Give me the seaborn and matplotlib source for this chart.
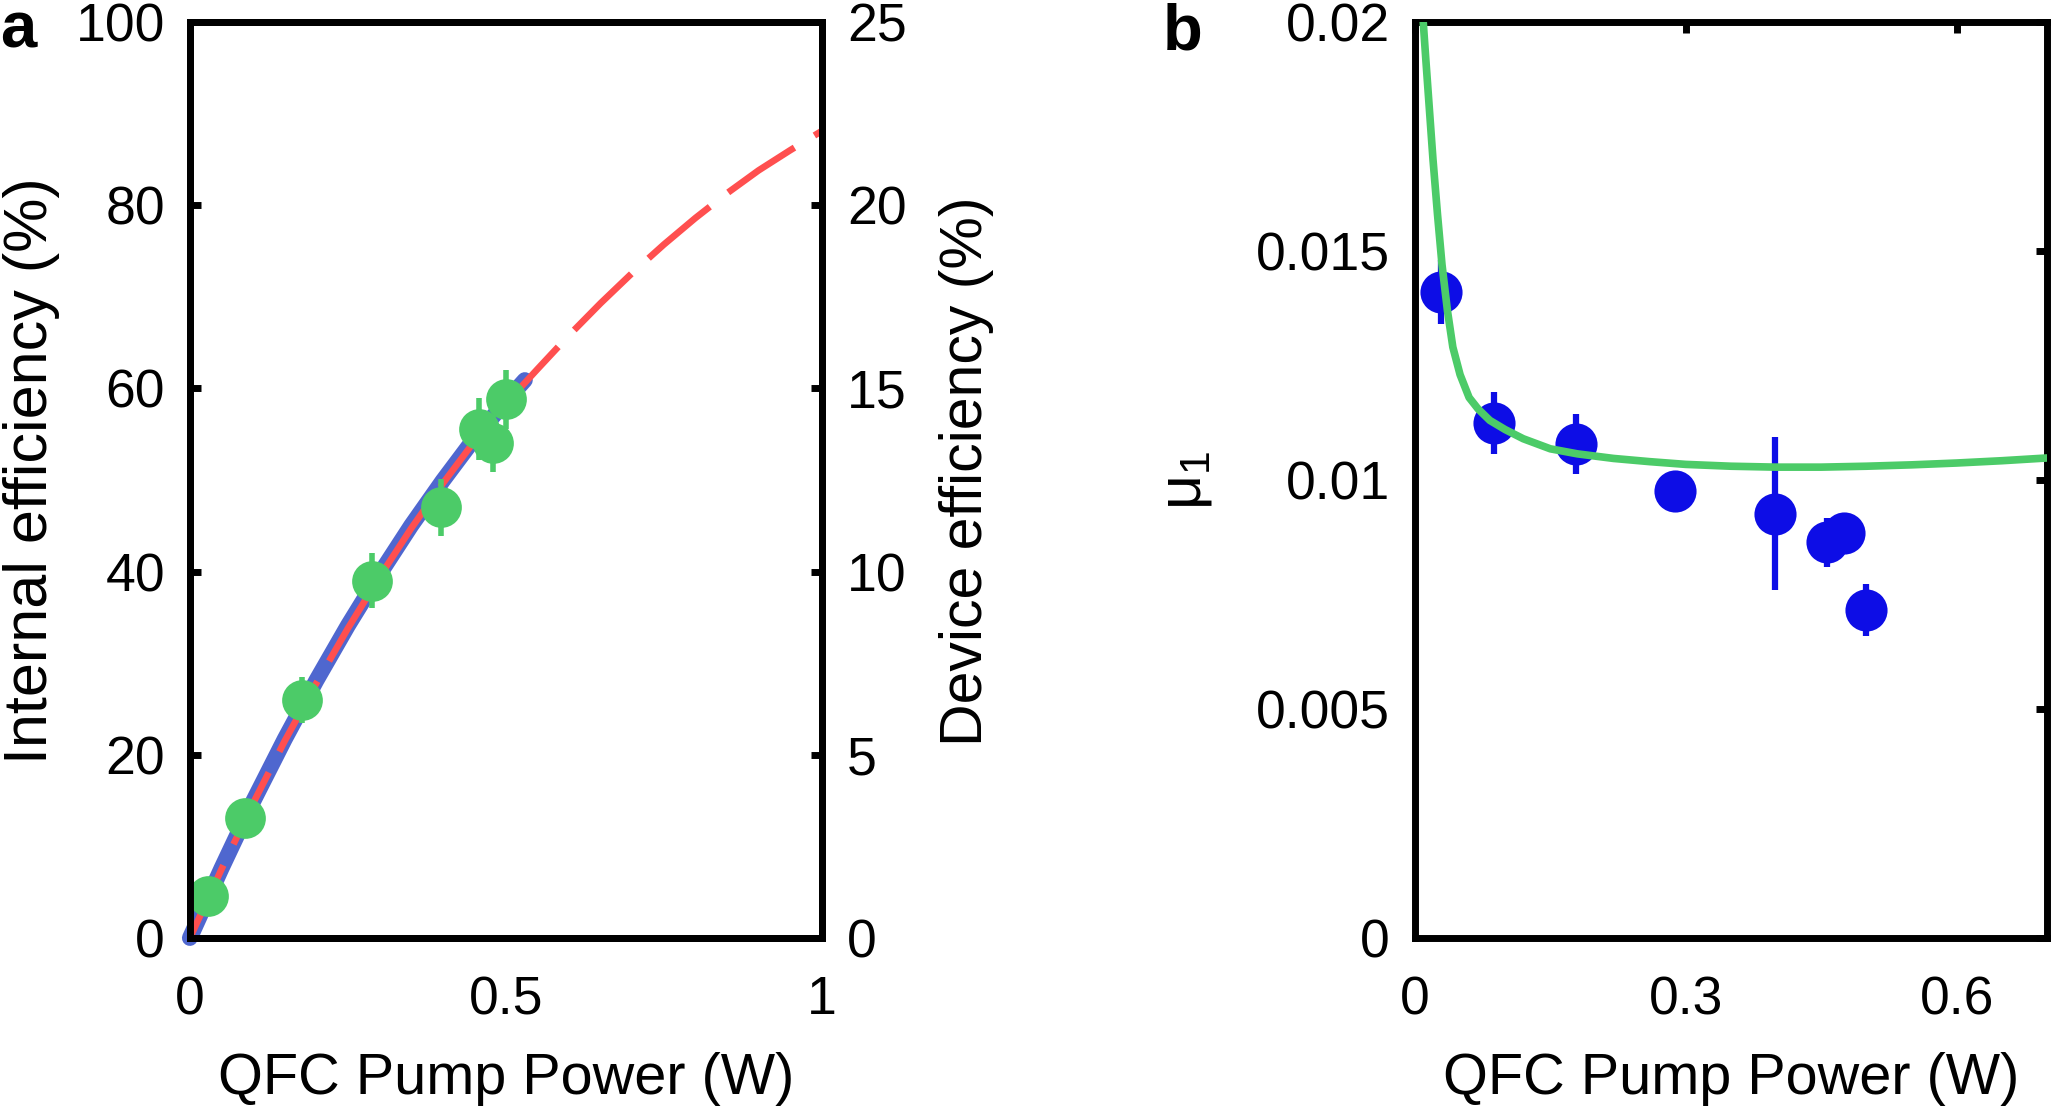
"""
QFC 泵浦功率 vs 效率 / mu_1 两联图
"""
import matplotlib
matplotlib.use('Agg')
import matplotlib.pyplot as plt
import seaborn as sns

# ---- panel a: measured internal efficiency (green dots) ----
pump_a = [0.029, 0.087, 0.177, 0.288, 0.398, 0.457, 0.479, 0.500]
eff_a = [4.6, 13.1, 26.0, 39.0, 47.0, 55.6, 54.0, 58.8]
eff_a_err = [1.2, 1.8, 2.5, 3.0, 3.1, 3.4, 3.1, 3.2]

# ---- panel a: theory curve (red dashed) and measured-device curve (blue) ----
fit_pump = [0, 0.05, 0.1, 0.15, 0.2, 0.25, 0.3, 0.35, 0.4, 0.45, 0.5,
            0.53, 0.55, 0.6, 0.65, 0.7, 0.75, 0.8, 0.85, 0.9, 0.95, 1.0]
fit_eff = [0, 7.5, 14.7, 21.5, 27.8, 33.8, 39.4, 44.7, 49.6, 54.2, 58.3,
           60.6, 62.1, 65.8, 69.3, 72.6, 75.7, 78.6, 81.3, 83.8, 86.0, 88.1]
dev_pump = [0, 0.05, 0.1, 0.15, 0.2, 0.25, 0.3, 0.35, 0.4, 0.45, 0.5, 0.53]
dev_eff = [0, 7.6, 14.9, 21.7, 28.1, 34.1, 39.7, 45.0, 49.9, 54.5, 58.6, 60.9]

# ---- panel b: mu_1 data (blue dots) and model (green line) ----
pump_b = [0.029, 0.088, 0.178, 0.288, 0.399, 0.457, 0.475, 0.500]
mu_b = [0.01411, 0.01124, 0.01078, 0.00975, 0.00926, 0.00864, 0.00884, 0.00716]
mu_b_err = [0.0007, 0.00067, 0.00066, 0.00045, 0.00167, 0.00054, 0.00035, 0.00057]

mu_fit_pump = [0.0092, 0.012, 0.016, 0.020, 0.025, 0.030, 0.036, 0.042, 0.050,
               0.060, 0.070, 0.083, 0.10, 0.12, 0.15, 0.18, 0.22, 0.26, 0.30,
               0.35, 0.40, 0.45, 0.50, 0.55, 0.60, 0.65, 0.70]
mu_fit = [0.0200, 0.0192, 0.0181, 0.0170, 0.0158, 0.0147, 0.0137, 0.0129, 0.0123,
          0.0118, 0.01155, 0.0113, 0.0111, 0.0109, 0.01068, 0.01057, 0.01047,
          0.0104, 0.01034, 0.0103, 0.01028, 0.01028, 0.0103, 0.01033, 0.01037,
          0.01042, 0.01048]

GREEN = '#4ccb68'
RED = '#ff4f4f'
SLATE = '#4f67cf'
BLUE = '#0d0de6'

sns.set_style('white')
plt.rcParams['font.family'] = ['Liberation Sans', 'DejaVu Sans']
plt.rcParams['mathtext.fontset'] = 'custom'
plt.rcParams['mathtext.rm'] = 'Liberation Sans'
plt.rcParams['mathtext.it'] = 'Liberation Sans'
for k in ['text.color', 'axes.labelcolor', 'xtick.color', 'ytick.color']:
    plt.rcParams[k] = 'black'

TICK_FS = 38.5
XLABEL_FS = 41.5
SPINE_W = 5

fig = plt.figure(figsize=(20.53, 11.10), dpi=100)
ax = fig.add_axes([0.0925, 0.155, 0.3078, 0.8252])
axb = fig.add_axes([0.6892, 0.155, 0.3078, 0.8252])


def style_spines(a):
    for sp in a.spines.values():
        sp.set_visible(True)
        sp.set_linewidth(SPINE_W)
        sp.set_color('black')
        sp.set_capstyle('projecting')


# ================= panel a =================
sns.lineplot(x=dev_pump, y=dev_eff, ax=ax, color=SLATE, lw=11.5,
             sort=False, estimator=None, solid_capstyle='round', clip_on=False, zorder=2)
sns.lineplot(x=fit_pump, y=fit_eff, ax=ax, color=RED, lw=4.8,
             sort=False, estimator=None, linestyle=(0, (12, 3.5)), zorder=3)
ax.errorbar(pump_a, eff_a, yerr=eff_a_err, fmt='none', ecolor=GREEN,
            elinewidth=4, capsize=0, zorder=4)
sns.scatterplot(x=pump_a, y=eff_a, ax=ax, color=GREEN, s=860, linewidth=0, zorder=5)

ax.set_xlim(0, 1)
ax.set_ylim(0, 100)
ax.set_xticks([0, 0.5, 1])
ax.set_xticklabels(['0', '0.5', '1'])
ax.set_yticks([0, 20, 40, 60, 80, 100])
ax.tick_params(axis='both', direction='in', length=8, width=SPINE_W,
               labelsize=TICK_FS, top=False, right=False)
ax.tick_params(axis='y', pad=18)
ax.tick_params(axis='x', pad=27)
ax.set_xlabel('QFC Pump Power (W)', fontsize=XLABEL_FS)
ax.set_ylabel('Internal efficiency (%)', fontsize=44)
ax.xaxis.set_label_coords(0.5, -0.124)
ax.yaxis.set_label_coords(-0.205, 0.51)
style_spines(ax)

ax2 = ax.twinx()
ax2.set_ylim(0, 25)
ax2.set_yticks([0, 5, 10, 15, 20, 25])
ax2.tick_params(axis='y', direction='in', length=8, width=SPINE_W,
                labelsize=TICK_FS, pad=18)
ax2.set_ylabel('Device efficiency (%)', fontsize=42.5)
ax2.yaxis.set_label_coords(1.185, 0.51)
style_spines(ax2)

# ================= panel b =================
axb.errorbar(pump_b, mu_b, yerr=mu_b_err, fmt='none', ecolor=BLUE,
             elinewidth=4.5, capsize=0, zorder=3)
sns.scatterplot(x=pump_b, y=mu_b, ax=axb, color=BLUE, s=920, linewidth=0, zorder=4)
sns.lineplot(x=mu_fit_pump, y=mu_fit, ax=axb, color=GREEN, lw=5.5,
             sort=False, estimator=None, zorder=5)

axb.set_xlim(0, 0.7)
axb.set_ylim(0, 0.02)
axb.set_xticks([0, 0.3, 0.6])
axb.set_xticklabels(['0', '0.3', '0.6'])
axb.set_yticks([0, 0.005, 0.01, 0.015, 0.02])
axb.set_yticklabels(['0', '0.005', '0.01', '0.015', '0.02'])
axb.tick_params(axis='both', direction='in', length=8, width=SPINE_W,
                labelsize=TICK_FS, top=True, right=True)
axb.tick_params(axis='y', pad=18)
axb.tick_params(axis='x', pad=27)
axb.set_xlabel('QFC Pump Power (W)', fontsize=XLABEL_FS)
axb.set_ylabel(r'$\mathregular{\mu_1}$', fontsize=44)
axb.xaxis.set_label_coords(0.5, -0.124)
axb.yaxis.set_label_coords(-0.318, 0.5)
style_spines(axb)

# panel letters
fig.text(0.0, 1 - 48 / 1110, 'a', fontsize=47, fontweight='bold', ha='left', va='baseline')
fig.text(1163 / 2053, 1 - 50 / 1110, 'b', fontsize=47, fontweight='bold', ha='left', va='baseline')

fig.savefig('out.png', dpi=100)
